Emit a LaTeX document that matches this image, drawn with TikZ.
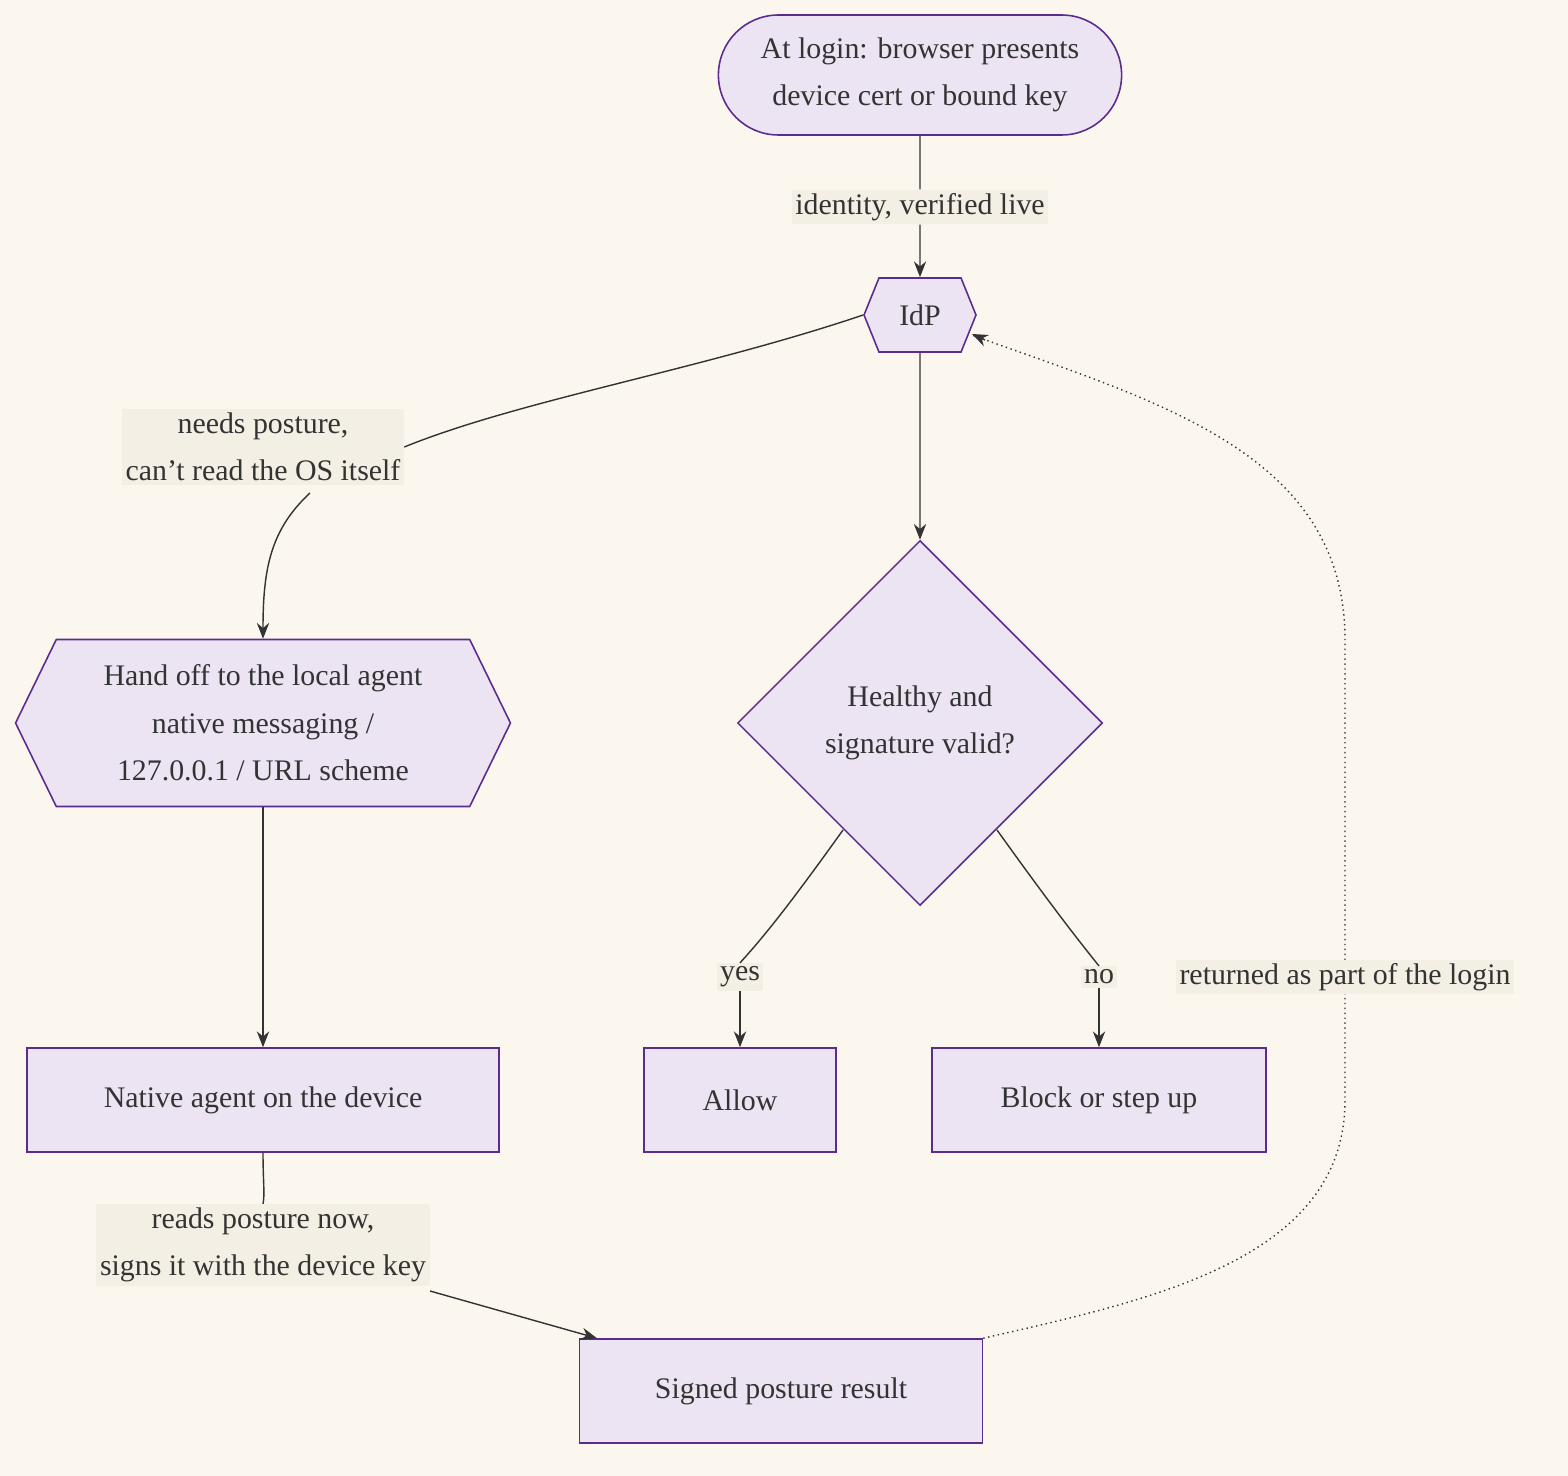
\documentclass[tikz,border=0pt]{standalone}
\usepackage{fontspec}
\setmainfont{Liberation Serif}
\usetikzlibrary{positioning,arrows.meta,shapes.geometric,shapes.symbols,shapes.misc}
\definecolor{bgcol}{HTML}{FBF7EF}
\definecolor{boxfill}{HTML}{ECE4F3}
\definecolor{boxline}{HTML}{5B2C8E}
\definecolor{linecol}{HTML}{333333}
\definecolor{labfill}{HTML}{F3EFE4}
\tikzset{
    box/.style={
        rectangle,
        draw=boxline,
        fill=boxfill,
        line width=0.9pt,
        align=center,
        text=linecol,
        font=\fontsize{17}{27}\selectfont,
    },
    hexa/.style={
        box,
        signal,
        signal to=west and east,
    },
    edgelabel/.style={
        fill=labfill,
        align=center,
        text=linecol,
        inner sep=2pt,
        font=\fontsize{17}{27}\selectfont,
    },
    connector/.style={
        draw=linecol,
        line width=0.8pt,
        -{Stealth[length=9pt,width=7pt]},
    },
}
\begin{document}
\begin{tikzpicture}[x=0.02cm,y=-0.02cm]
    \fill[bgcol] (0,0) rectangle (1568,1476);
    \useasboundingbox (0,0) rectangle (1568,1476);
    % nodes
    \node[box,rounded rectangle,minimum width=8.3cm,minimum height=2.4cm](login) at (920,75)
        {At login: browser presents\\device cert or bound key};
    \node[hexa,signal pointer angle=136,minimum width=2.24cm,minimum height=1.48cm](idp) at (920,315) {IdP};
    \node[hexa,signal pointer angle=128,minimum width=9.9cm,minimum height=3.34cm,inner sep=0pt](handoff) at (263,723)
        {Hand off to the local agent\\native messaging /\\127.0.0.1 / URL scheme};
    \node[box,diamond,minimum width=7.3cm,minimum height=7.3cm,inner sep=0pt](check) at (920,723)
        {Healthy and\\signature valid?};
    \node[box,minimum width=9.44cm,minimum height=2.08cm](agent) at (263,1100) {Native agent on the device};
    \node[box,minimum width=3.84cm,minimum height=2.08cm](allow) at (740,1100) {Allow};
    \node[box,minimum width=6.68cm,minimum height=2.08cm](block) at (1099,1100) {Block or step up};
    \node[box,minimum width=8.06cm,minimum height=2.08cm](signed) at (781,1391) {Signed posture result};
    % labels
    \node[edgelabel](l1) at (920,207) {identity, verified live};
    \node[edgelabel](l2) at (263,447) {needs posture,\\can't read the OS itself};
    \node[edgelabel](l3) at (740,977) {yes};
    \node[edgelabel](l4) at (1099,977) {no};
    \node[edgelabel](l5) at (263,1245) {reads posture now,\\signs it with the device key};
    % connectors
    \draw[draw=linecol,line width=0.8pt] (login) -- (l1);
    \draw[connector] (l1) -- (idp);
    \draw[draw=linecol,line width=0.8pt] (idp.west) .. controls (700,370) and (520,400) .. (l2.east);
    \draw[connector] (310,493) .. controls (270,530) and (263,570) .. (handoff.north);
    \draw[connector] (idp) -- (check);
    \draw[draw=linecol,line width=0.8pt] (843,830) .. controls (800,890) and (770,930) .. (l3.north);
    \draw[connector] (l3.south) -- (allow.north);
    \draw[draw=linecol,line width=0.8pt] (997,830) .. controls (1040,890) and (1070,930) .. (l4.north);
    \draw[connector] (l4.south) -- (block.north);
    \draw[connector] (handoff.south) -- (agent.north);
    \draw[draw=linecol,line width=0.8pt] (agent.south) .. controls (263,1180) and (265,1195) .. (l5.north);
    \draw[connector] (430,1291) -- (signed.north west -| 597,1340);
    \draw[draw=linecol,line width=0.8pt,dotted] (signed.north east) .. controls (1150,1300) and (1345,1260) .. (1345,1100)
        -- (1345,640) .. controls (1345,450) and (1150,400) .. (972,335);
    \draw[-{Stealth[length=9pt,width=7pt]},draw=linecol,line width=0.8pt] (985,340) -- (972,334);
    \node[edgelabel](l6) at (1345,977) {returned as part of the login};
\end{tikzpicture}
\end{document}
